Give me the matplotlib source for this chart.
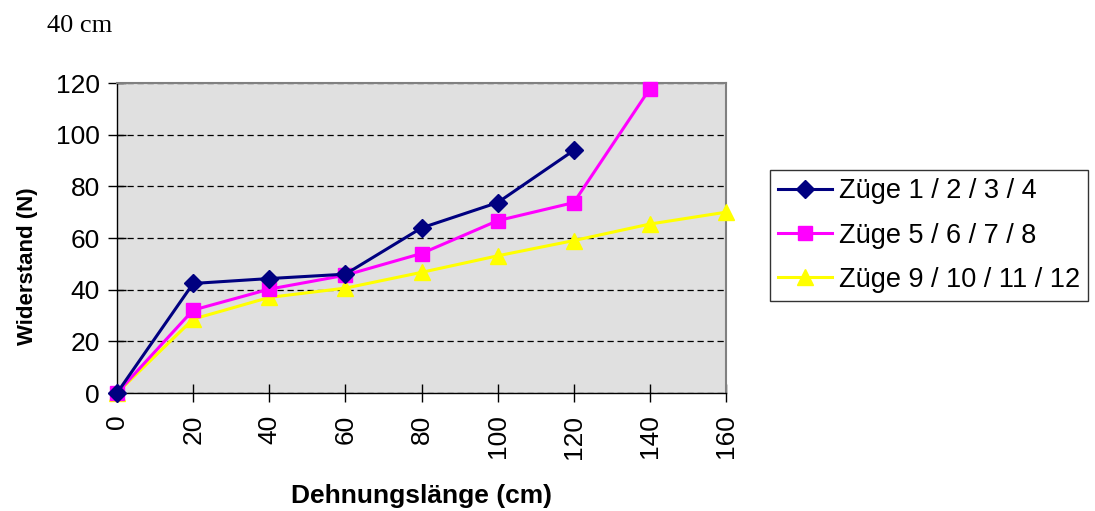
import matplotlib
matplotlib.use('Agg')
from matplotlib import pyplot as plt

# Werte
laenge_1 = [0, 20, 40, 60, 80, 100, 120]
zuege_1 = [0, 42.4, 44.3, 46.0, 63.9, 73.7, 93.9]

laenge_2 = [0, 20, 40, 60, 80, 100, 120, 140]
zuege_2 = [0, 32.1, 40.2, 45.6, 54.0, 66.7, 73.7, 117.8]

laenge_3 = [0, 20, 40, 60, 80, 100, 120, 140, 160]
zuege_3 = [0, 28.6, 37.0, 40.6, 46.7, 53.1, 59.0, 65.4, 70.0]

namen = ["Züge 1 / 2 / 3 / 4", "Züge 5 / 6 / 7 / 8", "Züge 9 / 10 / 11 / 12"]
x_ticks = [0, 20, 40, 60, 80, 100, 120, 140, 160]
y_ticks = [0, 20, 40, 60, 80, 100, 120]

plt.rcParams['font.family'] = ['Liberation Sans', 'DejaVu Sans']

fig = plt.figure(figsize=(10.95, 5.11), dpi=100)
ax = fig.add_axes([117/1095, 1-393/511, (726-117)/1095, (393-83)/511])
ax.set_facecolor('#e0e0e0')

ax.plot(laenge_1, zuege_1, color='#000080', marker='D', markersize=9.5, lw=2.2, label=namen[0], clip_on=False, zorder=5)
ax.plot(laenge_2, zuege_2, color='#ff00ff', marker='s', markersize=10.5, lw=2.2, label=namen[1], clip_on=False, zorder=4)
ax.plot(laenge_3, zuege_3, color='#ffff00', marker='^', markersize=11.5, lw=2.2, label=namen[2], clip_on=False, zorder=3)

ax.set_xlim(0, 160)
ax.set_ylim(0, 120)
ax.set_xticks(x_ticks)
ax.set_yticks(y_ticks)
ax.set_xticklabels([str(v) for v in x_ticks], rotation=90, fontsize=19)
ax.set_yticklabels([str(v) for v in y_ticks], fontsize=19)
ax.tick_params(direction='inout', length=13, width=1, color='black')
ax.tick_params(axis='x', pad=9)
ax.tick_params(axis='y', pad=6)
ax.yaxis.grid(True, color='black', linestyle=(0, (5, 3)), lw=0.9)
ax.set_axisbelow(True)
for s in ax.spines.values():
    s.set_color('#808080')
    s.set_linewidth(1.5)
ax.spines['left'].set_color('black')
ax.spines['bottom'].set_color('black')
ax.spines['left'].set_linewidth(1)
ax.spines['bottom'].set_linewidth(1)

ax.set_xlabel("Dehnungslänge (cm)", fontsize=19, fontweight='bold', labelpad=18)
ax.set_ylabel("Widerstand (N)", fontsize=16, fontweight='bold')
ax.yaxis.set_label_coords(-0.13, 0.41)

leg = ax.legend(loc='upper left', bbox_to_anchor=(770/1095, 1-170/511), bbox_transform=fig.transFigure,
                fontsize=19.5, frameon=True, fancybox=False, edgecolor='black', handlelength=2.0,
                handletextpad=0.25, borderpad=0.3, labelspacing=0.68, borderaxespad=0)
leg.get_frame().set_linewidth(1)

fig.text(47/1095, 1-26/511, "40 cm", family='Liberation Serif', fontsize=19, va='center')

fig.savefig('out.png', dpi=100)
